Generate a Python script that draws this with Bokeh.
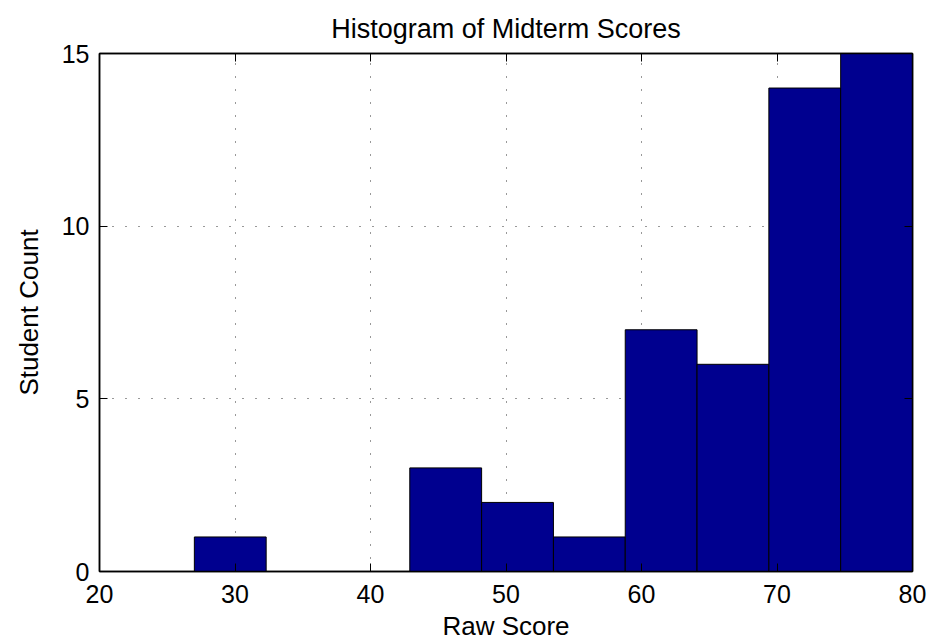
from bokeh.plotting import figure
from bokeh.models import ColumnDataSource, LinearAxis, FixedTicker, Range1d
from bokeh.embed import file_html
from bokeh.resources import INLINE

# Data
bin_edges = [27.0, 32.3, 37.6, 42.9, 48.2, 53.5, 58.8, 64.1, 69.4, 74.7, 80.0]
counts = [1, 0, 0, 3, 2, 1, 7, 6, 14, 15]
x_ticks = [20, 30, 40, 50, 60, 70, 80]
y_ticks = [0, 5, 10, 15]

FONT = "Liberation Sans"

src = ColumnDataSource(dict(
    left=bin_edges[:-1], right=bin_edges[1:], top=counts, bottom=[0] * len(counts)
))

p = figure(output_backend="svg", toolbar_location=None,
           x_range=Range1d(20, 80), y_range=Range1d(0, 15),
           title="Histogram of Midterm Scores",
           frame_width=813, frame_height=518,
           min_border_left=99, min_border_right=30, min_border_top=53, min_border_bottom=60)

p.title.align = "center"
p.title.text_font = FONT
p.title.text_font_size = "27px"
p.title.text_font_style = "normal"
p.title.text_color = "black"
p.title.offset = 0
p.title.standoff = 19

p.quad(left="left", right="right", top="top", bottom="bottom", source=src,
       fill_color="#00008F", line_color="black", line_width=1)

for ax in (p.xaxis[0], p.yaxis[0]):
    ax.major_tick_in = 8
    ax.major_tick_out = 0
    ax.minor_tick_in = 0
    ax.minor_tick_out = 0
    ax.axis_line_color = "black"
    ax.axis_line_width = 1.5
    ax.major_tick_line_color = "black"
    ax.major_label_text_font = FONT
    ax.major_label_text_font_size = "25px"
    ax.major_label_text_color = "black"
    ax.axis_label_text_font = FONT
    ax.axis_label_text_font_size = "26px"
    ax.axis_label_text_font_style = "normal"
    ax.axis_label_text_color = "black"

p.xaxis[0].ticker = FixedTicker(ticks=x_ticks)
p.yaxis[0].ticker = FixedTicker(ticks=y_ticks)
p.xaxis[0].axis_label = "Raw Score"
p.yaxis[0].axis_label = "Student Count"
p.xaxis[0].major_label_standoff = 13
p.xaxis[0].axis_label_standoff = 5
p.yaxis[0].major_label_standoff = 10
p.yaxis[0].axis_label_standoff = 15

# mirrored ticks on top and right
top_ax = LinearAxis(ticker=FixedTicker(ticks=x_ticks), major_label_text_font_size="0px",
                    major_label_standoff=0,
                    major_tick_in=8, major_tick_out=0, minor_tick_in=0, minor_tick_out=0,
                    axis_line_color="black", axis_line_width=1.5, major_tick_line_color="black")
right_ax = LinearAxis(ticker=FixedTicker(ticks=y_ticks), major_label_text_font_size="0px",
                      major_label_standoff=0,
                      major_tick_in=8, major_tick_out=0, minor_tick_in=0, minor_tick_out=0,
                      axis_line_color="black", axis_line_width=1.5, major_tick_line_color="black")
p.add_layout(top_ax, "above")
p.add_layout(right_ax, "right")

p.xgrid.ticker = FixedTicker(ticks=x_ticks[1:-1])
p.ygrid.ticker = FixedTicker(ticks=y_ticks[1:-1])
for g in (p.xgrid[0], p.ygrid[0]):
    g.grid_line_color = "#333333"
    g.grid_line_dash = "1 12"
    g.grid_line_width = 1
    g.level = "underlay"

p.outline_line_color = "black"
p.outline_line_width = 1.5
p.background_fill_color = "white"
p.border_fill_color = "white"

open("out.html", "w").write(file_html(p, INLINE))
